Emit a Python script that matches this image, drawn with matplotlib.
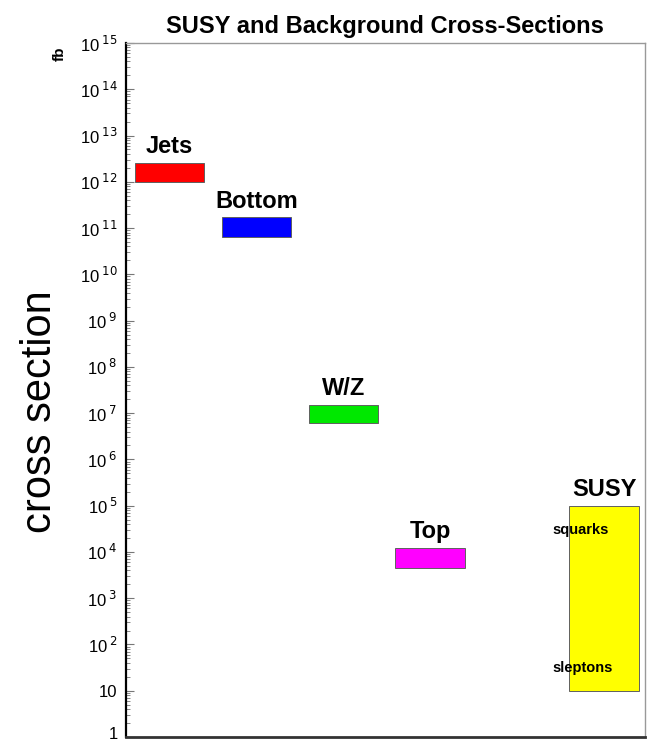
import numpy as np
import matplotlib.pyplot as plt
import matplotlib.transforms as mtransforms
from matplotlib.ticker import LogLocator, FixedLocator, NullFormatter

# cross-section ranges in fb (low, high) per process
processes = ['Jets', 'Bottom', 'W/Z', 'Top', 'SUSY']
sigma_low = [1.0e12, 6.3e10, 6.2e6, 4.6e3, 10.0]
sigma_high = [2.6e12, 1.7e11, 1.5e7, 1.2e4, 1.0e5]
colors = ['#ff0000', '#0000ff', '#00e800', '#ff00ff', '#ffff00']
slots = [0.5, 1.5, 2.5, 3.5, 5.5]

# SUSY sub-labels
susy_labels = ['squarks', 'sleptons']
susy_label_y = [3.0e4, 31.0]

ytick_exp = list(range(0, 16))

sans = ['Liberation Sans', 'DejaVu Sans']

fig = plt.figure(figsize=(6.54, 7.44), dpi=100)
ax = fig.add_axes([0.1927, 0.0094, 0.7935, 0.9328])

lo = np.array(sigma_low)
hi = np.array(sigma_high)
ax.bar(slots, hi - lo, bottom=lo, width=0.8, color=colors,
       edgecolor='#606060', linewidth=0.7, zorder=2)

for x, top, name in zip(slots, hi, processes):
    ax.annotate(name, (x, top), xytext=(0, 3.5), textcoords='offset points',
                ha='center', va='bottom', fontsize=17, fontweight='bold',
                family=sans)

for txt, y in zip(susy_labels, susy_label_y):
    ax.text(slots[-1] - 0.6, y, txt, ha='left', va='center', fontsize=10.5,
            fontweight='bold', family=sans)

ax.set_yscale('log')
ax.set_ylim(1, 1e15)
ax.set_xlim(0, 5.97)

ax.yaxis.set_major_locator(FixedLocator([10.0**e for e in ytick_exp]))
ax.yaxis.set_minor_locator(LogLocator(base=10, subs=np.arange(2, 10), numticks=40))
ax.yaxis.set_minor_formatter(NullFormatter())
labels = []
for e in ytick_exp:
    if e == 0:
        labels.append('1')
    elif e == 1:
        labels.append('10')
    else:
        labels.append(r'10$^{\;%d}$' % e)
ax.set_yticklabels(labels, fontsize=12, family=sans)
ax.tick_params(axis='y', which='major', direction='in', length=6, width=0.8,
               color='#777777', pad=6)
ax.tick_params(axis='y', which='minor', direction='in', length=3, width=0.7,
               color='#888888')
ax.tick_params(axis='x', which='both', bottom=False, labelbottom=False)

# nudge the "1" label up so it stays on the canvas
lbl_one = ax.get_yticklabels()[0]
lbl_one.set_transform(lbl_one.get_transform() +
                      mtransforms.ScaledTranslation(0, 4 / 100, fig.dpi_scale_trans))

ax.spines['left'].set_linewidth(1.6)
ax.spines['bottom'].set_linewidth(2.0)
ax.spines['bottom'].set_color('#333333')
for side in ('top', 'right'):
    ax.spines[side].set_linewidth(1.0)
    ax.spines[side].set_color('#999999')

fig.text(0.589, 0.965, 'SUSY and Background Cross-Sections', ha='center',
         va='center', fontsize=17, fontweight='bold', family=sans)
fig.text(0.061, 0.447, 'cross section', rotation=90, ha='center', va='center',
         fontsize=30, family=sans)
fig.text(0.092, 0.928, 'fb', rotation=90, ha='center', va='center',
         fontsize=11, fontweight='bold', family=sans)

fig.savefig('out.png', dpi=100)
